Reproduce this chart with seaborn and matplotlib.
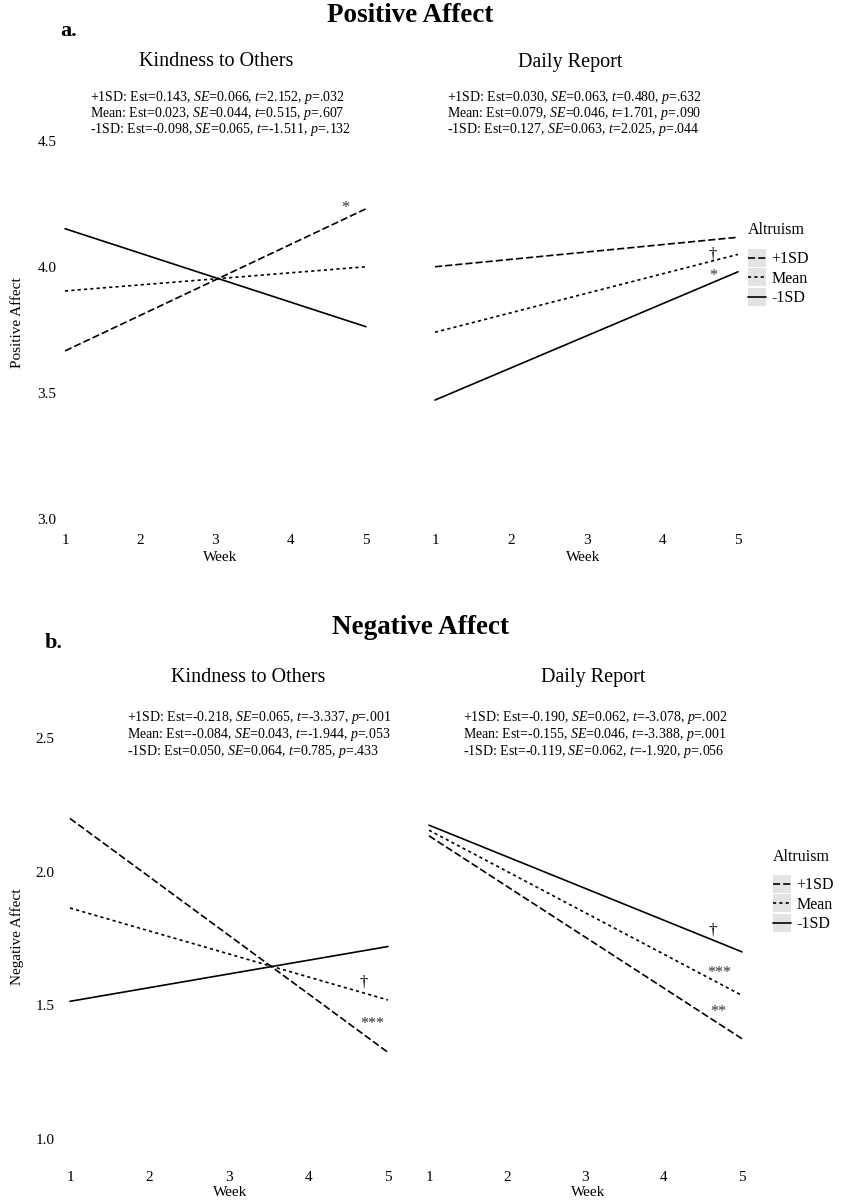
import numpy as np
import pandas as pd
import matplotlib
matplotlib.use("Agg")
import matplotlib.pyplot as plt
import seaborn as sns
from matplotlib.lines import Line2D
from matplotlib.patches import Rectangle
from matplotlib.legend_handler import HandlerLine2D

# ---------------- data ----------------
weeks = [1, 5]
levels = ["+1SD", "Mean", "-1SD"]
week_ticks = [1, 2, 3, 4, 5]

# Positive affect (week 1, week 5)
pa_kind_plus = [3.667, 4.231]
pa_kind_mean = [3.905, 4.001]
pa_kind_minus = [4.152, 3.763]
pa_daily_plus = [4.001, 4.118]
pa_daily_mean = [3.741, 4.050]
pa_daily_minus = [3.472, 3.981]

# Negative affect (week 1, week 5)
na_kind_plus = [2.199, 1.324]
na_kind_mean = [1.864, 1.520]
na_kind_minus = [1.515, 1.720]
na_daily_plus = [2.134, 1.375]
na_daily_mean = [2.155, 1.537]
na_daily_minus = [2.174, 1.700]

pa_yticks = [3.0, 3.5, 4.0, 4.5]
na_yticks = [1.0, 1.5, 2.0, 2.5]

pa_kind_stats = [
    r"+1SD: Est=0.143, $SE$=0.066, $t$=2.152, $p$=.032",
    r"Mean: Est=0.023, $SE$=0.044, $t$=0.515, $p$=.607",
    r"-1SD: Est=-0.098, $SE$=0.065, $t$=-1.511, $p$=.132",
]
pa_daily_stats = [
    r"+1SD: Est=0.030, $SE$=0.063, $t$=0.480, $p$=.632",
    r"Mean: Est=0.079, $SE$=0.046, $t$=1.701, $p$=.090",
    r"-1SD: Est=0.127, $SE$=0.063, $t$=2.025, $p$=.044",
]
na_kind_stats = [
    r"+1SD: Est=-0.218, $SE$=0.065, $t$=-3.337, $p$=.001",
    r"Mean: Est=-0.084, $SE$=0.043, $t$=-1.944, $p$=.053",
    r"-1SD: Est=0.050, $SE$=0.064, $t$=0.785, $p$=.433",
]
na_daily_stats = [
    r"+1SD: Est=-0.190, $SE$=0.062, $t$=-3.078, $p$=.002",
    r"Mean: Est=-0.155, $SE$=0.046, $t$=-3.388, $p$=.001",
    r"-1SD: Est=-0.119, $SE$=0.062, $t$=-1.920, $p$=.056",
]

# significance marks: (label, week, value)
pa_kind_marks = [("*", 4.72, 4.235)]
pa_daily_marks = [("\u2020", 4.67, 4.05), ("*", 4.67, 3.965)]
na_kind_marks = [("\u2020", 4.69, 1.585), ("***", 4.80, 1.43)]
na_daily_marks = [("\u2020", 4.63, 1.78), ("***", 4.71, 1.62), ("**", 4.69, 1.475)]

# ---------------- style ----------------
sns.set_theme(style="white")
plt.rcParams["font.family"] = ["Liberation Serif", "DejaVu Serif"]
plt.rcParams["mathtext.fontset"] = "custom"
plt.rcParams["mathtext.rm"] = "Liberation Serif"
plt.rcParams["mathtext.it"] = "Liberation Serif:italic"
plt.rcParams["mathtext.bf"] = "Liberation Serif:bold"
for key in ["text.color", "axes.labelcolor", "xtick.color", "ytick.color"]:
    plt.rcParams[key] = "black"

W, H = 841, 1200
fig = plt.figure(figsize=(W / 100, H / 100), dpi=100)
fig.patch.set_facecolor("white")

LW = 1.2
dashes = {"+1SD": (4.3, 1.8), "Mean": (1.9, 1.9), "-1SD": ""}


def add_axes_px(box):
    left, top, right, bottom = box
    return fig.add_axes([left / W, 1 - bottom / H, (right - left) / W, (bottom - top) / H])


def set_limits(ax, box, xpx, ypx):
    left, top, right, bottom = box
    kx = 4.0 / (xpx[1] - xpx[0])
    ax.set_xlim(1 + (left - xpx[0]) * kx, 1 + (right - xpx[0]) * kx)
    (v1, p1), (v2, p2) = ypx
    ky = (v2 - v1) / (p2 - p1)
    ax.set_ylim(v1 + (bottom - p1) * ky, v1 + (top - p1) * ky)


def panel_df(plus, mean, minus):
    rows = []
    for lvl, vals in zip(levels, [plus, mean, minus]):
        for w, v in zip(weeks, vals):
            rows.append({"Week": w, "value": v, "Altruism": lvl})
    return pd.DataFrame(rows)


def draw_panel(box, xpx, ypx, series, yticks, ylabel, marks, xlabel_px, ylabel_px, label_y):
    ax = add_axes_px(box)
    df = panel_df(*series)
    sns.lineplot(data=df, x="Week", y="value", style="Altruism", style_order=levels,
                 dashes=dashes, color="black", linewidth=LW, legend=False,
                 estimator=None, errorbar=None, ax=ax)
    for ln in ax.lines:
        ln.set_clip_on(False)
    set_limits(ax, box, xpx, ypx)
    ax.set_xticks(week_ticks)
    ax.set_yticks(yticks)
    ax.set_yticklabels([f"{t:.1f}" for t in yticks])
    for sp in ax.spines.values():
        sp.set_visible(False)
    ax.grid(False)
    ax.set_facecolor("none")
    ax.tick_params(axis="both", length=0, labelsize=11, colors="black")
    ax.tick_params(axis="x", pad=4.5)
    ax.tick_params(axis="y", pad=2.5)
    left, top, right, bottom = box
    ax.set_xlabel("Week", fontsize=11, color="black")
    ax.xaxis.set_label_coords((xlabel_px - left) / (right - left), (bottom - label_y) / (bottom - top))
    if ylabel:
        ax.set_ylabel(ylabel, fontsize=11, color="black")
        ax.yaxis.set_label_coords((ylabel_px[0] - left) / (right - left),
                                  (bottom - ylabel_px[1]) / (bottom - top))
    else:
        ax.set_ylabel("")
        ax.tick_params(axis="y", labelleft=False)
    for lab, wx, vy in marks:
        col = "black" if lab == "\u2020" else "#333333"
        ax.text(wx, vy, lab, ha="center", va="center",
                fontsize=12 if lab == "\u2020" else 11.5, color=col)
    return ax


class KeyBG(HandlerLine2D):
    def create_artists(self, legend, orig_handle, xdescent, ydescent, width, height, fontsize, trans):
        arts = super().create_artists(legend, orig_handle, xdescent, ydescent, width, height, fontsize, trans)
        ymid = (height - 2 * ydescent) / 2
        for a in arts:
            a.set_ydata([ymid] * len(a.get_xdata()))
        r = Rectangle((-xdescent, -ydescent), width, height, transform=trans,
                      facecolor="#e3e3e3", edgecolor="none")
        return [r] + list(arts)


def fig_text(xp, yp, s, **kw):
    return fig.text(xp / W, 1 - yp / H, s, **kw)


def add_legend(title_x, title_y, legend_top):
    fig_text(title_x, title_y, "Altruism", ha="left", va="center", fontsize=11.5)
    handles = []
    for lvl in levels:
        h = Line2D([0, 1], [0, 0], color="black", linewidth=LW)
        if dashes[lvl]:
            h.set_dashes(dashes[lvl])
        handles.append(h)
    leg = fig.legend(handles, levels, loc="upper left",
                     bbox_to_anchor=(title_x / W, 1 - legend_top / H),
                     frameon=False, fontsize=11.5, handlelength=1.15, handleheight=1.36,
                     handletextpad=0.3, labelspacing=0.07, borderpad=0, borderaxespad=0,
                     handler_map={Line2D: KeyBG()})
    return leg


# ---------------- Panel a: Positive Affect ----------------
fig_text(410, 16, "Positive Affect", ha="center", va="center", fontsize=19.5, fontweight="bold")
fig_text(69, 31, "a.", ha="center", va="center", fontsize=16, fontweight="bold")
fig_text(216, 62, "Kindness to Others", ha="center", va="center", fontsize=14.5)
fig_text(570, 62, "Daily Report", ha="center", va="center", fontsize=14.5)
for i, s in enumerate(pa_kind_stats):
    fig_text(90, 97 + i * 16.5, s, ha="left", va="center", fontsize=10)
for i, s in enumerate(pa_daily_stats):
    fig_text(447, 97 + i * 16.5, s, ha="left", va="center", fontsize=10)

pa_ypx = ((4.5, 141), (3.0, 519))
draw_panel((60, 135, 385, 528), (65, 366), pa_ypx,
           (pa_kind_plus, pa_kind_mean, pa_kind_minus), pa_yticks, "Positive Affect",
           pa_kind_marks, 220, (24, 323), 551)
draw_panel((425, 135, 745, 528), (435, 738), pa_ypx,
           (pa_daily_plus, pa_daily_mean, pa_daily_minus), pa_yticks, None,
           pa_daily_marks, 583, None, 551)
add_legend(748, 230, 249)

# ---------------- Panel b: Negative Affect ----------------
fig_text(421, 628, "Negative Affect", ha="center", va="center", fontsize=19.5, fontweight="bold")
fig_text(54, 643, "b.", ha="center", va="center", fontsize=16, fontweight="bold")
fig_text(248, 678, "Kindness to Others", ha="center", va="center", fontsize=14.5)
fig_text(593, 678, "Daily Report", ha="center", va="center", fontsize=14.5)
for i, s in enumerate(na_kind_stats):
    fig_text(127, 717 + i * 17.5, s, ha="left", va="center", fontsize=10)
for i, s in enumerate(na_daily_stats):
    fig_text(463, 717 + i * 17.5, s, ha="left", va="center", fontsize=10)

na_ypx = ((2.5, 738), (1.0, 1139))
draw_panel((58, 730, 400, 1165), (70, 388), na_ypx,
           (na_kind_plus, na_kind_mean, na_kind_minus), na_yticks, "Negative Affect",
           na_kind_marks, 230, (24, 937), 1186)
draw_panel((420, 730, 760, 1165), (429, 742), na_ypx,
           (na_daily_plus, na_daily_mean, na_daily_minus), na_yticks, None,
           na_daily_marks, 588, None, 1186)
add_legend(773, 857, 875)

fig.savefig("out.png", dpi=100, facecolor="white")
